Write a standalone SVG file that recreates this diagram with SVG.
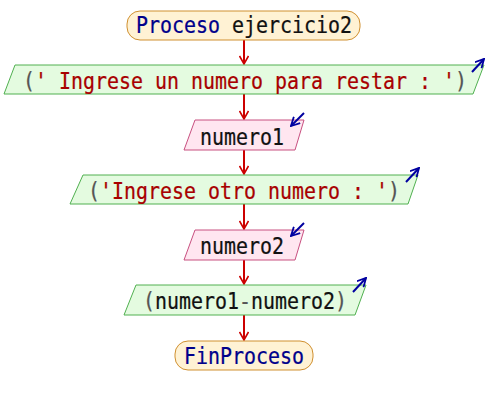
<svg xmlns="http://www.w3.org/2000/svg" width="488" height="405" viewBox="0 0 488 405">
  <style>
    text { font-family: "DejaVu Sans Mono", "Liberation Mono", monospace; font-size: 23px; text-anchor: middle; white-space: pre; stroke-width: 0.25px; }
    .kw { fill: #00008b; stroke: #00008b; }
    .id { fill: #111111; stroke: #111111; }
    .str { fill: #a80000; stroke: #a80000; }
    .par { fill: #555555; stroke: #555555; }
    .term { fill: #fff2d4; stroke: #d09030; stroke-width: 1; }
    .out { fill: #e4fbe0; stroke: #50b050; stroke-width: 1; }
    .in { fill: #ffe6f0; stroke: #c85080; stroke-width: 1; }
    .flow { stroke: #cc0000; stroke-width: 2; fill: none; }
    .io { stroke: #0000a0; stroke-width: 2; fill: none; }
  </style>
  <defs>
    <marker id="vhead" viewBox="0 0 10 10" refX="9" refY="5" markerWidth="10" markerHeight="10" markerUnits="userSpaceOnUse" orient="auto">
      <path d="M1,0.5 L9,5 L1,9.5" fill="none" stroke="#cc0000" stroke-width="1.6"/>
    </marker>
    <marker id="iohead" viewBox="0 0 10 10" refX="9" refY="5" markerWidth="10" markerHeight="10" markerUnits="userSpaceOnUse" orient="auto">
      <path d="M0.5,0.5 L9,5 L0.5,9.5" fill="none" stroke="#0000a0" stroke-width="1.8"/>
    </marker>
  </defs>

  <g id="connectors">
    <line class="flow" x1="244" y1="40" x2="244" y2="64" marker-end="url(#vhead)"/>
    <line class="flow" x1="244" y1="94" x2="244" y2="119" marker-end="url(#vhead)"/>
    <line class="flow" x1="244" y1="150" x2="244" y2="174" marker-end="url(#vhead)"/>
    <line class="flow" x1="244" y1="204" x2="244" y2="229" marker-end="url(#vhead)"/>
    <line class="flow" x1="244" y1="260" x2="244" y2="284" marker-end="url(#vhead)"/>
    <line class="flow" x1="244" y1="315" x2="244" y2="340" marker-end="url(#vhead)"/>
  </g>

  <!-- labels use a horizontally narrowed mono face: 12px per character -->
  <g id="start">
    <rect class="term" x="127" y="11" width="233" height="29" rx="13" ry="13"/>
    <g transform="translate(244,33) scale(0.867,1)">
      <text x="0" y="0" xml:space="preserve"><tspan class="kw">Proceso</tspan><tspan class="id"> ejercicio2</tspan></text>
    </g>
  </g>

  <g id="write1">
    <polygon class="out" points="15,65 484,65 473,94 4,94"/>
    <g transform="translate(245,88.5) scale(0.867,1)">
      <text x="0" y="0" xml:space="preserve"><tspan class="par">(</tspan><tspan class="str">' Ingrese un numero para restar : '</tspan><tspan class="par">)</tspan></text>
    </g>
    <line class="io" x1="472" y1="72" x2="484" y2="59" marker-end="url(#iohead)"/>
  </g>

  <g id="read1">
    <polygon class="in" points="195,120 304,120 295,150 184,150"/>
    <g transform="translate(242,144.5) scale(0.867,1)">
      <text x="0" y="0" class="id">numero1</text>
    </g>
    <line class="io" x1="304" y1="113" x2="291" y2="126" marker-end="url(#iohead)"/>
  </g>

  <g id="write2">
    <polygon class="out" points="83,175 418,175 408,204 70,204"/>
    <g transform="translate(244,198.5) scale(0.867,1)">
      <text x="0" y="0" xml:space="preserve"><tspan class="par">(</tspan><tspan class="str">'Ingrese otro numero : '</tspan><tspan class="par">)</tspan></text>
    </g>
    <line class="io" x1="406" y1="182" x2="419" y2="168" marker-end="url(#iohead)"/>
  </g>

  <g id="read2">
    <polygon class="in" points="195,230 304,230 295,260 184,260"/>
    <g transform="translate(242,253.5) scale(0.867,1)">
      <text x="0" y="0" class="id">numero2</text>
    </g>
    <line class="io" x1="304" y1="223" x2="291" y2="236" marker-end="url(#iohead)"/>
  </g>

  <g id="write3">
    <polygon class="out" points="136,285 366,285 355,315 124,315"/>
    <g transform="translate(245,308.5) scale(0.867,1)">
      <text x="0" y="0" xml:space="preserve"><tspan class="par">(</tspan><tspan class="id">numero1</tspan><tspan class="par">-</tspan><tspan class="id">numero2</tspan><tspan class="par">)</tspan></text>
    </g>
    <line class="io" x1="353" y1="292" x2="366" y2="278" marker-end="url(#iohead)"/>
  </g>

  <g id="end">
    <rect class="term" x="175" y="341" width="138" height="29" rx="13" ry="13"/>
    <g transform="translate(244,364) scale(0.867,1)">
      <text x="0" y="0" class="kw">FinProceso</text>
    </g>
  </g>
</svg>
